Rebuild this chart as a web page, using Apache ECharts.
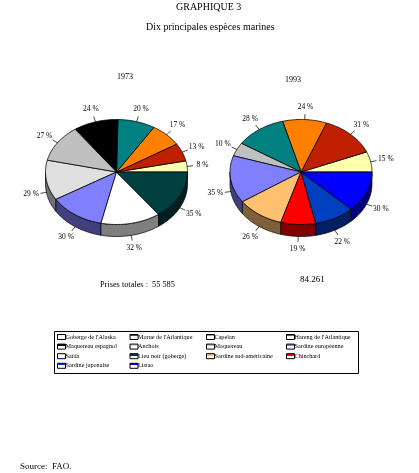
<!DOCTYPE html>
<html><head><meta charset="utf-8">
<style>html,body{margin:0;padding:0;background:#fff}#c{width:419px;height:473px}</style>
<script src="https://cdn.jsdelivr.net/npm/echarts@6/dist/echarts.min.js"></script>
</head><body><div id="c"></div>
<script>
const species = ["Goberge de l'Alaska","Morue de l'Atlantique","Capelan","Hareng de l'Atlantique","Maquereau espagnol","Anchois","Maquereau","Sardine européenne","Saïda","Lieu noir (goberge)","Sardine sud-américaine","Chinchard","Sardine japonaise","Listao"];
const colors = ["#FFFFB0","#C02000","#FF8000","#008080","#000000","#E0E0E0","#C0C0C0","#8080FF","#FFFFFF","#004040","#FFC070","#FF0000","#0040C0","#0000FF"];
const order1973 = ["Lieu noir (goberge)","Saïda","Sardine européenne","Anchois","Maquereau","Maquereau espagnol","Hareng de l'Atlantique","Capelan","Morue de l'Atlantique","Goberge de l'Alaska"];
const values1973 = [35,32,30,29,27,24,20,17,13,8];
const order1993 = ["Listao","Sardine japonaise","Chinchard","Sardine sud-américaine","Sardine européenne","Maquereau","Hareng de l'Atlantique","Capelan","Morue de l'Atlantique","Goberge de l'Alaska"];
const values1993 = [30,22,19,26,35,10,28,24,31,15];
const legendColumns = [[0,4,8,12],[1,5,9,13],[2,6,10],[3,7,11]];
const legendLefts = [57,129.5,206,286];

const pies = [{c:[116.5,172]},{c:[301,172]}];
const RX = 71, RY = 52.5, DEPTH = 12;
const serif = '"Liberation Serif","Times New Roman",serif';

function halve(hex){
  const n = parseInt(hex.slice(1),16);
  const f = v => Math.floor(v/2);
  return 'rgb(' + f(n>>16&255) + ',' + f(n>>8&255) + ',' + f(n&255) + ')';
}
function rows(name){
  const out = [];
  [[order1973,values1973],[order1993,values1993]].forEach(([ord,vals],p)=>{
    const i = ord.indexOf(name);
    if(i<0) return;
    const total = vals.reduce((a,b)=>a+b,0);
    const before = vals.slice(0,i).reduce((a,b)=>a+b,0);
    out.push([p,vals[i],before,total]);
  });
  return out;
}
function makeRender(color){
  return function(params,api){
    const p = api.value(0), v = api.value(1), before = api.value(2), total = api.value(3);
    const [cx,cy] = pies[p].c;
    const a0 = before/total*2*Math.PI, a1 = (before+v)/total*2*Math.PI, mid=(a0+a1)/2;
    const pt = (t,d)=>[cx+RX*Math.cos(t), cy+RY*Math.sin(t)+(d||0)];
    const children = [];
    const sA = Math.max(a0,0), sB = Math.min(a1,Math.PI);
    if(sB>sA){
      const pts=[];
      for(let k=0;k<=30;k++) pts.push(pt(sA+(sB-sA)*k/30,0));
      for(let k=30;k>=0;k--) pts.push(pt(sA+(sB-sA)*k/30,DEPTH));
      children.push({type:'polygon',shape:{points:pts},style:{fill:halve(color),stroke:'#000',lineWidth:0.7}});
    }
    const top=[[cx,cy]];
    for(let k=0;k<=40;k++) top.push(pt(a0+(a1-a0)*k/40,0));
    children.push({type:'polygon',shape:{points:top},style:{fill:color,stroke:'#000',lineWidth:0.8}});
    const sm=Math.sin(mid), cm=Math.cos(mid), d=sm>0?DEPTH:0;
    const rim=pt(mid,d);
    children.push({type:'line',shape:{x1:rim[0],y1:rim[1],x2:rim[0]+6*cm,y2:rim[1]+5.5*sm},style:{stroke:'#000',lineWidth:0.7}});
    children.push({type:'text',style:{x:rim[0]+15.5*cm,y:rim[1]+13*sm,text:v+' %',font:'7.5px '+serif,fill:'#000',align:'center',verticalAlign:'middle'}});
    return {type:'group',children};
  };
}
const series = species.map((name,i)=>({
  type:'custom',name,coordinateSystem:'none',silent:true,
  itemStyle:{color:colors[i]},
  data:rows(name),
  renderItem:makeRender(colors[i]),
  animation:false
}));
const swatch = c => ({type:'linear',x:0,y:0,x2:0,y2:1,colorStops:[{offset:0,color:c},{offset:0.4,color:c},{offset:0.4,color:'#fff'},{offset:1,color:'#fff'}]});
const legends = legendColumns.map((col,j)=>({
  orient:'vertical',left:legendLefts[j],top:334,padding:0,itemGap:3.6,itemWidth:8,itemHeight:5,icon:'rect',
  selectedMode:false,
  textStyle:{fontFamily:serif,fontSize:6.2,color:'#000',padding:[0,0,0,-5]},
  data:col.map(i=>({name:species[i],itemStyle:{color:swatch(colors[i]),borderColor:'#000',borderWidth:1}}))
}));
const txt=(text,left,top,size,weight)=>({text,left,top,padding:0,textStyle:{fontFamily:serif,fontSize:size,fontWeight:weight||'normal',color:'#000',lineHeight:size+1}});
const option={
  animation:false,backgroundColor:'#fff',
  title:[
    txt('GRAPHIQUE 3',176,2,10),
    txt('Dix principales espèces marines',146,22,10),
    txt('1973',117,72,8),
    txt('1993',285,75,8),
    txt('Prises totales :  55 585',100,280,8.3),
    txt('84.261',300,275,9),
    txt('Source:  FAO.',20,462,9)
  ],
  legend:legends,
  series,
  graphic:[{type:'rect',shape:{x:54.5,y:331.5,width:304,height:42},style:{fill:'none',stroke:'#000',lineWidth:1},z:10,silent:true}]
};
const chart=echarts.init(document.getElementById('c'),null,{renderer:'canvas'});
chart.setOption(option);
</script></body></html>
